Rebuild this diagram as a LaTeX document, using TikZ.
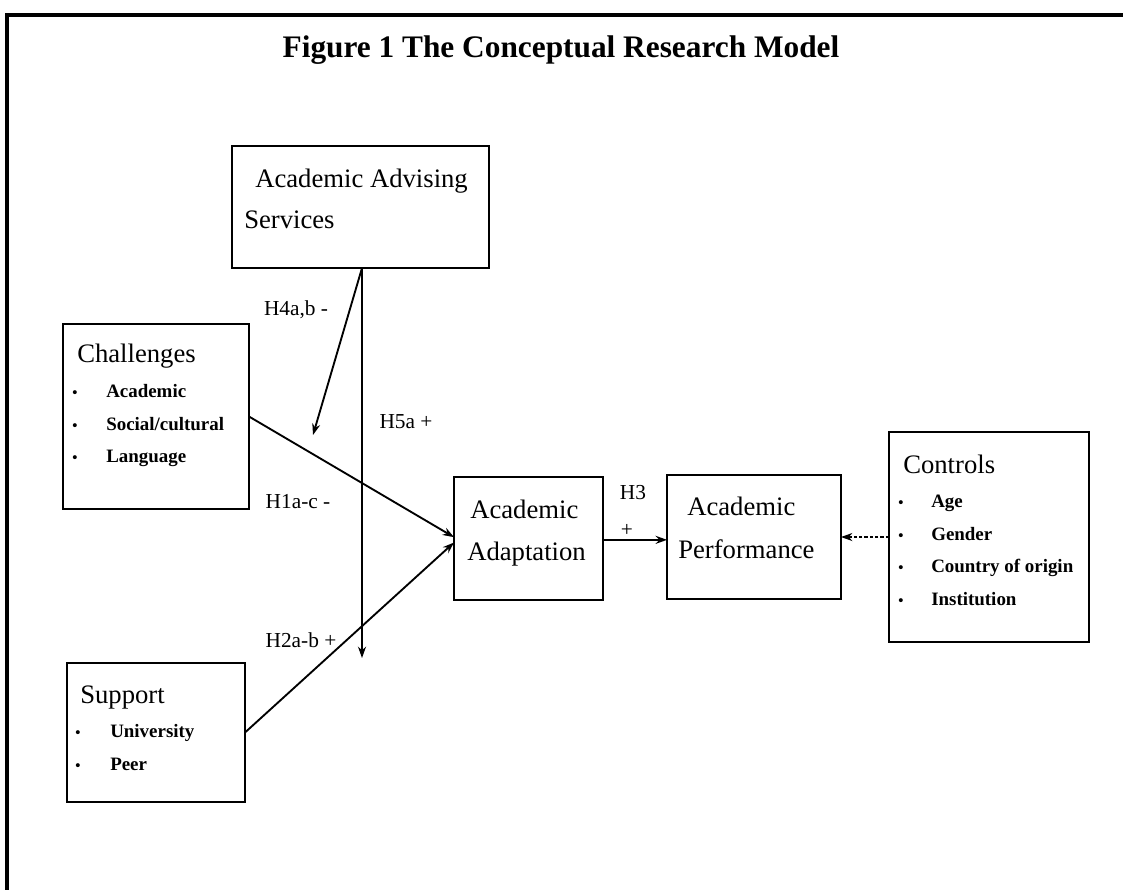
\documentclass[tikz,border=0pt]{standalone}
\usepackage{fontspec}
\setmainfont{Liberation Serif}
\usetikzlibrary{arrows.meta}
\begin{document}
\begin{tikzpicture}[x=0.75pt,y=-0.75pt,
  box/.style 2 args={draw,line width=1.8pt,inner sep=0pt,outer sep=0pt,
    minimum width={#1*0.75pt},minimum height={#2*0.75pt}},
  head/.style={anchor=base west,inner sep=0pt,font=\fontsize{20}{24}\selectfont},
  item/.style={anchor=base west,inner sep=0pt,font=\fontsize{14.2}{17}\selectfont\bfseries},
  bul/.style={anchor=base,inner sep=0pt,font=\fontsize{11}{13}\selectfont\bfseries},
  hyp/.style={inner sep=0pt,font=\fontsize{16}{19}\selectfont},
  conn/.style={line width=1.4pt,-{Stealth[length=8.5pt,width=6pt]}}]
\useasboundingbox (0,0) rectangle (1123,890);
% frame
\draw[line width=2.3pt] (1123,15) -- (7,15) -- (7,890);
\node[anchor=base,inner sep=0pt,font=\fontsize{23.5}{28}\selectfont\bfseries] (title) at (561,57) {Figure 1 The Conceptual Research Model};
% boxes
\node[box={257}{122}] (adv) at (360.5,207) {};
\node[box={186}{185}] (chal) at (156,416.5) {};
\node[box={178}{139}] (supp) at (156,732.5) {};
\node[box={149}{123}] (adap) at (528.5,538.5) {};
\node[box={174}{124}] (perf) at (754,537) {};
\node[box={200}{210}] (ctrl) at (989,537) {};
% box texts
\node[head] (advA) at (255,187) {Academic Advising};
\node[head] (advB) at (244,228) {Services};
\node[head] (chalH) at (77,362) {Challenges};
\node[bul] (cb1) at (75,397) {•}; \node[item] (c1) at (106,397) {Academic};
\node[bul] (cb2) at (75,430) {•}; \node[item] (c2) at (106,430) {Social/cultural};
\node[bul] (cb3) at (75,462) {•}; \node[item] (c3) at (106,462) {Language};
\node[head] (suppH) at (80,703) {Support};
\node[bul] (sb1) at (78,737) {•}; \node[item] (s1) at (110,737) {University};
\node[bul] (sb2) at (78,770) {•}; \node[item] (s2) at (110,770) {Peer};
\node[head] (adapA) at (470,518) {Academic};
\node[head] (adapB) at (467,560) {Adaptation};
\node[head] (perfA) at (687,515) {Academic};
\node[head] (perfB) at (678,558) {Performance};
\node[head] (ctrlH) at (903,473) {Controls};
\node[bul] (kb1) at (901,507) {•}; \node[item] (k1) at (931,507) {Age};
\node[bul] (kb2) at (901,540) {•}; \node[item] (k2) at (931,540) {Gender};
\node[bul] (kb3) at (901,572) {•}; \node[item] (k3) at (931,572) {Country of origin};
\node[bul] (kb4) at (901,605) {•}; \node[item] (k4) at (931,605) {Institution};
% connectors
\coordinate (v5) at (362,658);
\coordinate (v4) at (313,435);
\draw[conn] (v5 |- adv.south) -- (v5);
\draw[conn] (v5 |- adv.south) -- (v4);
\draw[conn] (chal.east) -- ([yshift=1pt]adap.west);
\draw[conn] (supp.east) -- ([yshift=-3pt]adap.west);
\draw[conn] ([yshift=-1pt]adap.east) -- ([yshift=-1pt]adap.east -| perf.west);
\draw[conn,dash pattern=on 2.5pt off 1.5pt] (ctrl.west) -- (ctrl.west -| perf.east);
% hypothesis labels
\node[hyp] (h4) at (296,310) {H4a,b -};
\node[hyp] (h5) at (406,422) {H5a +};
\node[hyp] (h1) at (298,502) {H1a-c -};
\node[hyp] (h2) at (301,640) {H2a-b +};
\node[hyp] (h3) at (633,493) {H3};
\node[hyp] (h3p) at (627,530) {+};
\end{tikzpicture}
\end{document}
